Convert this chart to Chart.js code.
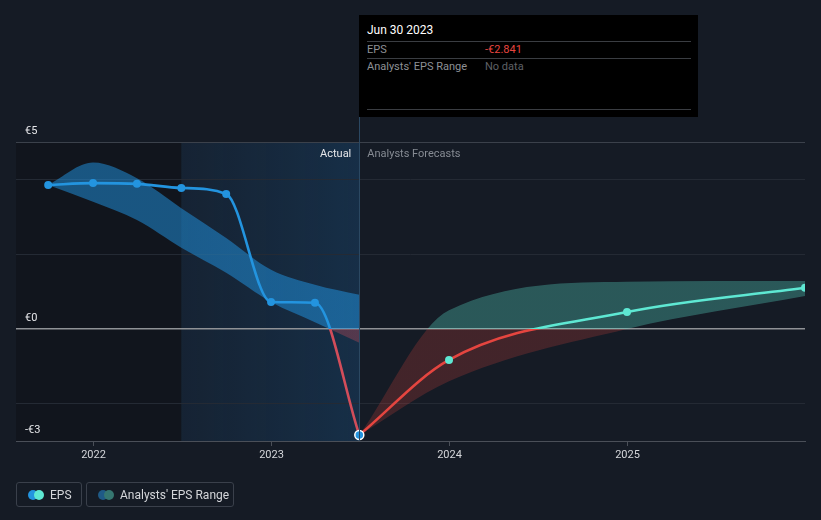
<!DOCTYPE html>
<html>
<head>
<meta charset="utf-8">
<script src="https://cdn.jsdelivr.net/npm/chart.js@4"></script>
<style>
  html, body { margin:0; padding:0; background:#151b25; width:821px; height:520px; overflow:hidden; font-family: Roboto, "Noto Sans", sans-serif; }
  #wrap { position:absolute; left:0; top:0; width:821px; height:520px; }
  canvas { position:absolute; left:0; top:0; }
  #tip { position:absolute; left:359px; top:15px; width:339px; height:102px; background:#000; }
  .tl { position:absolute; font-size:11px; line-height:13px; white-space:nowrap; }
  .hr { position:absolute; left:8px; width:324px; height:1px; background:#3a3d42; }
  .leg { position:absolute; top:482px; height:25px; border:1px solid #3a404b; border-radius:3px; box-sizing:border-box; }
  .dot { position:absolute; width:10px; height:10px; border-radius:50%; top:7px; }
  .lt { position:absolute; top:5px; font-size:12px; line-height:14px; color:#d4d6da; white-space:nowrap; }
</style>
</head>
<body>
<div id="wrap">
  <canvas id="c" width="821" height="520"></canvas>
  <div id="tip">
    <div class="tl" id="tipDate" style="left:8px; top:9px; font-size:12px; color:#ffffff;"></div>
    <div class="hr" style="top:26px;"></div>
    <div class="tl" id="tipEpsLabel" style="left:8px; top:28px; color:#8e9196;"></div>
    <div class="tl" id="tipEpsVal" style="left:126px; top:28px; color:#e8453f;"></div>
    <div class="hr" style="top:43px;"></div>
    <div class="tl" id="tipRangeLabel" style="left:8px; top:45px; color:#8e9196;"></div>
    <div class="tl" id="tipRangeVal" style="left:126px; top:45px; color:#5f6166;"></div>
    <div class="hr" style="top:94px;"></div>
  </div>
  <div class="leg" style="left:16px; width:66px;">
    <div class="dot" style="left:11px; background:#2394df;"></div>
    <div class="dot" style="left:17px; background:#5ee8d3;"></div>
    <div class="lt" id="leg1" style="left:33px;"></div>
  </div>
  <div class="leg" style="left:86px; width:148px;">
    <div class="dot" style="left:11px; background:#1f5a86;"></div>
    <div class="dot" style="left:17px; background:#357670;"></div>
    <div class="lt" id="leg2" style="left:33px;"></div>
  </div>
</div>
<script>
// ---------------- DATA ----------------
const actualDates   = ['2021-09-30','2021-12-31','2022-03-31','2022-06-30','2022-09-30','2022-12-31','2023-03-31','2023-06-30'];
const actualEps     = [3.85, 3.90, 3.88, 3.77, 3.61, 0.72, 0.70, -2.841];
const actualRangeHi = [3.85, 4.45, 4.03, 3.23, 2.43, 1.58, 1.18, 0.91];
const actualRangeLo = [3.85, 3.40, 2.91, 2.17, 1.50, 0.72, 0.18, -0.37];

const forecastDates   = ['2023-06-30','2023-12-31','2024-12-31','2025-12-31'];
const forecastEps     = [-2.841, -0.83, 0.45, 1.10];
const forecastRangeHi = [-2.841, 0.50, 1.26, 1.28];
const forecastRangeLo = [-2.841, -1.40, 0.00, 0.88];

const xRangeDates   = ['2021-07-26','2025-12-31'];
const shadeDates    = ['2022-06-30','2023-06-30'];
const xTickValues   = [2022, 2023, 2024, 2025];
const xTickLabels   = ['2022','2023','2024','2025'];
const yTickValues   = [5, 4, 2, 0, -2, -3];
const yLabelValues  = [5, 0, -3];
const yLabels       = ['€5','€0','-€3'];
const sectionLabels = ['Actual','Analysts Forecasts'];
const legendLabels  = ['EPS',"Analysts' EPS Range"];
const tooltipTexts  = ['Jun 30 2023','EPS','-€2.841',"Analysts' EPS Range",'No data'];

// ---------------- HELPERS ----------------
function toYear(s){
  const [y,m,d] = s.split('-').map(Number);
  const t = Date.UTC(y,m-1,d), t0 = Date.UTC(y,0,1), t1 = Date.UTC(y+1,0,1);
  return y + (t - t0)/(t1 - t0);
}
function pts(dates, vals){ return dates.map((d,i)=>({x:toYear(d), y:vals[i]})); }

function signGradient(above, below){
  return function(ctx){
    const chart = ctx.chart; const ca = chart.chartArea;
    if(!ca) return above;
    const y0 = chart.scales.y.getPixelForValue(0);
    let f = (y0 - ca.top)/(ca.bottom - ca.top);
    f = Math.min(1, Math.max(0, f));
    const g = chart.ctx.createLinearGradient(0, ca.top, 0, ca.bottom);
    g.addColorStop(0, above); g.addColorStop(f, above);
    g.addColorStop(f, below); g.addColorStop(1, below);
    return g;
  };
}

// text into HTML
document.getElementById('tipDate').textContent = tooltipTexts[0];
document.getElementById('tipEpsLabel').textContent = tooltipTexts[1];
document.getElementById('tipEpsVal').textContent = tooltipTexts[2];
document.getElementById('tipRangeLabel').textContent = tooltipTexts[3];
document.getElementById('tipRangeVal').textContent = tooltipTexts[4];
document.getElementById('leg1').textContent = legendLabels[0];
document.getElementById('leg2').textContent = legendLabels[1];

// ---------------- PLUGINS ----------------
const decor = {
  id:'decor',
  beforeDraw(chart){
    const {ctx, chartArea:ca, scales:{x}} = chart;
    const xs0 = x.getPixelForValue(toYear(shadeDates[0]));
    const xs1 = x.getPixelForValue(toYear(shadeDates[1]));
    ctx.save();
    ctx.fillStyle = '#11151d';
    ctx.fillRect(ca.left, ca.top, xs0 - ca.left, ca.bottom - ca.top);
    const g = ctx.createLinearGradient(xs0, 0, xs1, 0);
    g.addColorStop(0, 'rgba(25,60,95,0.26)');
    g.addColorStop(1, 'rgba(25,75,120,0.42)');
    ctx.fillStyle = g;
    ctx.fillRect(xs0, ca.top, xs1 - xs0, ca.bottom - ca.top);
    ctx.restore();
  },
  afterDatasetsDraw(chart){
    const {ctx, chartArea:ca, scales:{x,y}} = chart;
    const xd = x.getPixelForValue(toYear(shadeDates[1]));
    ctx.save();
    // divider line
    ctx.strokeStyle = '#2b4862';
    ctx.lineWidth = 1;
    ctx.beginPath(); ctx.moveTo(Math.round(xd)+0.5, 15); ctx.lineTo(Math.round(xd)+0.5, ca.bottom); ctx.stroke();
    // section labels
    ctx.font = '11px Roboto, "Noto Sans", sans-serif';
    ctx.textBaseline = 'middle';
    ctx.textAlign = 'right'; ctx.fillStyle = '#e6e7ea';
    ctx.fillText(sectionLabels[0], xd - 8, ca.top + 12);
    ctx.textAlign = 'left'; ctx.fillStyle = '#868b93';
    ctx.fillText(sectionLabels[1], xd + 8, ca.top + 12);
    // y labels
    ctx.fillStyle = '#e6e7ea';
    yLabelValues.forEach((v,i)=>{
      ctx.fillText(yLabels[i], 25, y.getPixelForValue(v) - 11);
    });
    ctx.restore();
  }
};

// ---------------- CHART ----------------
const ctx = document.getElementById('c').getContext('2d');
new Chart(ctx, {
  type:'line',
  data:{
    datasets:[
      { // actual EPS
        data: pts(actualDates, actualEps),
        borderColor: signGradient('#2394df','#d24d5a'),
        borderWidth: 2.6,
        cubicInterpolationMode:'monotone',
        pointRadius: actualEps.map((v,i)=> i===actualEps.length-1 ? 4.5 : 4),
        pointBackgroundColor:'#2394df',
        pointBorderColor: actualEps.map((v,i)=> i===actualEps.length-1 ? '#ffffff' : '#2394df'),
        pointBorderWidth: actualEps.map((v,i)=> i===actualEps.length-1 ? 1.5 : 0),
        fill:false, clip:{left:6,top:6,right:0,bottom:6}
      },
      { // forecast EPS
        data: pts(forecastDates, forecastEps),
        borderColor: signGradient('#5ee8d3','#e5453f'),
        borderWidth: 2.6,
        cubicInterpolationMode:'monotone',
        pointRadius: forecastEps.map((v,i)=> i===0 ? 0 : 4),
        pointBackgroundColor:'#5ee8d3',
        pointBorderWidth:0,
        fill:false, clip:{left:6,top:6,right:0,bottom:6}
      },
      { // actual range high
        data: pts(actualDates, actualRangeHi),
        borderWidth:0, pointRadius:0,
        cubicInterpolationMode:'monotone',
        fill: 3,
        backgroundColor: signGradient('rgba(33,150,229,0.5)','rgba(214,79,91,0.32)')
      },
      { // actual range low
        data: pts(actualDates, actualRangeLo),
        borderWidth:0, pointRadius:0,
        cubicInterpolationMode:'monotone',
        fill:false
      },
      { // forecast range high
        data: pts(forecastDates, forecastRangeHi),
        borderWidth:0, pointRadius:0,
        cubicInterpolationMode:'monotone',
        fill: 5,
        backgroundColor: signGradient('rgba(94,232,211,0.3)','rgba(229,69,63,0.22)')
      },
      { // forecast range low
        data: pts(forecastDates, forecastRangeLo),
        borderWidth:0, pointRadius:0,
        cubicInterpolationMode:'monotone',
        fill:false
      }
    ]
  },
  options:{
    responsive:false,
    animation:false,
    events:[],
    layout:{ padding:{ left:16, right:16, top:142, bottom:0 } },
    plugins:{ legend:{display:false}, tooltip:{enabled:false} },
    scales:{
      x:{
        type:'linear',
        min: toYear(xRangeDates[0]),
        max: toYear(xRangeDates[1]),
        afterBuildTicks: s => { s.ticks = xTickValues.map(v=>({value:v})); },
        afterFit: s => { s.height = 79; },
        ticks:{
          color:'#d4d6da', font:{family:'Roboto, "Noto Sans", sans-serif', size:11},
          padding:3, maxRotation:0, autoSkip:false,
          callback:(v)=>{ const i = xTickValues.indexOf(v); return i>=0 ? xTickLabels[i] : ''; }
        },
        grid:{ drawOnChartArea:false, drawTicks:true, tickLength:5, color:'#4a4f58' },
        border:{ display:true, color:'#4a4f58', width:1 }
      },
      y:{
        type:'linear',
        min:-3, max:5,
        afterBuildTicks: s => { s.ticks = yTickValues.map(v=>({value:v})); },
        afterFit: s => { s.width = 0; },
        ticks:{ display:false },
        grid:{
          drawTicks:false,
          color: c => c.tick.value===0 ? '#8f9296' : (c.tick.value===5 ? '#3b414b' : (c.tick.value===-3 ? 'rgba(0,0,0,0)' : '#242a34')),
          lineWidth: c => c.tick.value===0 ? 1.6 : 1
        },
        border:{ display:false }
      }
    }
  },
  plugins:[decor]
});
</script>
</body>
</html>
